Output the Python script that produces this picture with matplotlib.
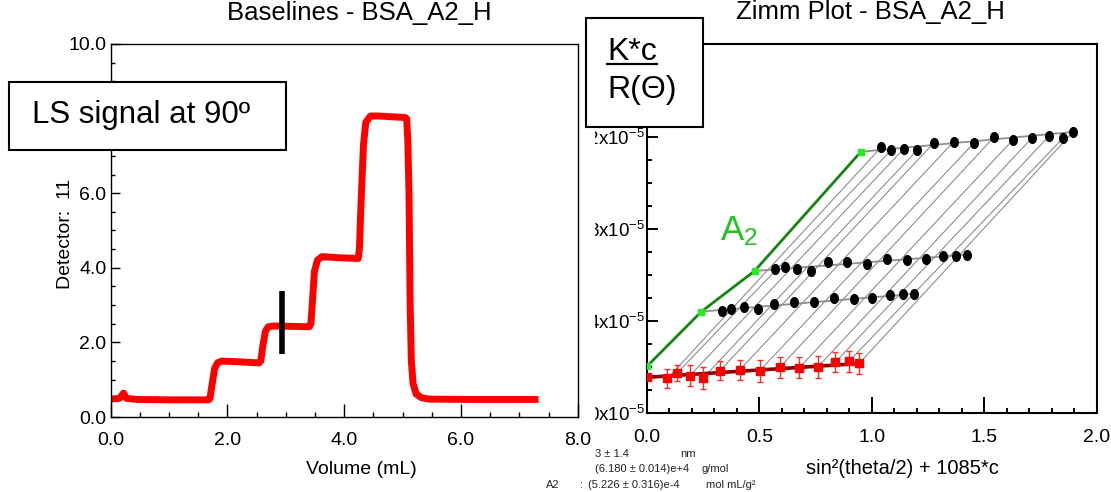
import numpy as np
import matplotlib
matplotlib.use("Agg")
import matplotlib.pyplot as plt
from matplotlib.patches import Rectangle
from matplotlib.lines import Line2D
from matplotlib.markers import MarkerStyle
from matplotlib.transforms import Affine2D, Bbox, TransformedBbox
from matplotlib.ticker import MultipleLocator

plt.rcParams['font.family'] = ['Liberation Sans', 'DejaVu Sans']
plt.rcParams['mathtext.fontset'] = 'custom'
plt.rcParams['mathtext.rm'] = 'Liberation Sans'
plt.rcParams['mathtext.it'] = 'Liberation Sans:italic'
plt.rcParams['mathtext.bf'] = 'Liberation Sans:bold'
plt.rcParams['mathtext.default'] = 'regular'

# --- left panel: LS detector trace (volume mL, signal) ---
volume = [0.00, 0.15, 0.22, 0.27, 0.45, 1.00, 1.68,
          1.70, 1.74, 1.78, 1.83, 1.90, 2.20, 2.54,
          2.57, 2.61, 2.65, 2.70, 2.80, 3.10, 3.40,
          3.43, 3.46, 3.49, 3.54, 3.62, 3.90, 4.24,
          4.26, 4.29, 4.33, 4.37, 4.45, 4.60, 4.80, 5.04,
          5.07, 5.09, 5.11, 5.13, 5.15, 5.18, 5.23, 5.32, 5.45, 6.20, 7.27]
signal = [0.48, 0.50, 0.64, 0.50, 0.47, 0.46, 0.46,
          0.50, 0.90, 1.30, 1.45, 1.50, 1.48, 1.45,
          1.50, 1.95, 2.30, 2.42, 2.44, 2.43, 2.42,
          2.50, 3.20, 3.90, 4.20, 4.30, 4.27, 4.25,
          4.50, 5.80, 7.30, 7.90, 8.07, 8.07, 8.05, 8.03,
          8.00, 7.40, 6.00, 3.00, 1.50, 0.90, 0.62, 0.52, 0.48, 0.47, 0.47]
marker_vol = 2.93
marker_lo, marker_hi = 1.68, 3.38

# --- right panel: Zimm plot (y in units of 1e-5) ---
sin2 = np.array([0.091, 0.134, 0.191, 0.250, 0.325, 0.4125, 0.502,
                 0.591, 0.678, 0.761, 0.8375, 0.898, 0.944])
conc = np.array([2.23e-4, 4.41e-4, 8.77e-4])   # g/mL
kc = 1085 * conc

row1 = [1.6444, 1.6452, 1.6460, 1.6452, 1.6472, 1.6482, 1.6483,
        1.6498, 1.6495, 1.6501, 1.6512, 1.6519, 1.6518]
row2 = [1.6627, 1.6636, 1.6627, 1.6617, 1.6658, 1.6656, 1.6649,
        1.6669, 1.6664, 1.6668, 1.6684, 1.6681, 1.6688]
row3 = [1.7154, 1.7140, 1.7147, 1.7141, 1.7173, 1.7177, 1.7171,
        1.7196, 1.7187, 1.7194, 1.7202, 1.7192, 1.7220]
zero_c = [1.6151, 1.6175, 1.6163, 1.6153, 1.6185, 1.6188, 1.6185,
          1.6199, 1.6198, 1.6202, 1.6221, 1.6225, 1.6216]
zero_c_err = [0.0042, 0.0036, 0.0046, 0.0046, 0.0042, 0.0043, 0.0048,
              0.0046, 0.0046, 0.0048, 0.0043, 0.0046, 0.0046]
zero_c0 = 1.6156
zero_angle = [1.6204, 1.6441, 1.6617, 1.7134]   # at 1085*c = 0, kc[0..2]

yticks_zimm = [1.60, 1.64, 1.68, 1.72]

W, H = 1111, 492
fig = plt.figure(figsize=(W / 100, H / 100), dpi=100)


def fx(x):
    return x / W


def fy(y):
    return 1 - y / H


# ---------------- left panel ----------------
ax1 = fig.add_axes([fx(110.7), fy(417), (577.7 - 110.7) / W, (417 - 44) / H])
ax1.plot(volume, signal, color='#ff0000', lw=5, solid_joinstyle='round')
ax1.plot([marker_vol, marker_vol], [marker_lo, marker_hi], color='black', lw=4,
         solid_capstyle='butt')
ax1.set_xlim(0, 8)
ax1.set_ylim(0, 10)
ax1.set_xticks(np.arange(0, 9, 2), labels=[f"{v:.1f}" for v in np.arange(0, 9, 2)])
# the 8.0 label sits under the "LS signal" box
ax1.set_yticks(np.arange(0, 11, 2),
               labels=[f"{v:.1f}" if v != 8 else '' for v in np.arange(0, 11, 2)])
ax1.xaxis.set_minor_locator(MultipleLocator(0.5))
ax1.yaxis.set_minor_locator(MultipleLocator(0.5))
ax1.tick_params(axis='x', which='major', direction='in', length=9.4, width=1,
                labelsize=14, pad=11)
ax1.tick_params(axis='x', which='minor', direction='in', length=3.6, width=1)
ax1.tick_params(axis='y', which='major', direction='in', length=6.5, width=1,
                labelsize=14, pad=3)
ax1.tick_params(axis='y', which='minor', direction='in', length=3, width=1)
for s in ax1.spines.values():
    s.set_linewidth(1.0)
ax1.set_xlabel('Volume (mL)', fontsize=14, va='center')
ax1.xaxis.set_label_coords((361.6 - 110.7) / 467, (417 - 470) / 373)
ax1.set_ylabel('Detector:  11', fontsize=14, va='center')
ax1.yaxis.set_label_coords((66 - 110.7) / 467, (417 - 234) / 373)
ax1.set_title('Baselines - BSA_A2_H', fontsize=18.5, x=(359 - 110.7) / 467,
              y=(417 - 21) / 373, va='center')

# ---------------- right panel ----------------
ax2 = fig.add_axes([fx(647), fy(413.3), (1096.5 - 647) / W, (413.3 - 44.3) / H])
ell = MarkerStyle('o', transform=Affine2D().scale(0.78, 1.0))
rows = [row1, row2, row3]

for i in range(len(sin2)):
    ax2.plot([sin2[i], sin2[i] + kc[2]], [zero_c[i], row3[i]],
             color='#8e8e8e', lw=0.8, zorder=1)
for j, row in enumerate(rows):
    ax2.plot([kc[j], sin2[-1] + kc[j]], [zero_angle[j + 1], row[-1]],
             color='#8e8e8e', lw=1.3, zorder=2)
    ax2.plot(sin2 + kc[j], row, ls='none', marker=ell, ms=7, color='black', zorder=4)

ax2.plot(np.r_[0, kc], zero_angle, color='#12870f', lw=2, zorder=3)
ax2.plot(np.r_[0, kc], zero_angle, ls='none', marker='s', ms=5, color='#22ee22', zorder=5)

ax2.plot([0, sin2[-1]], [zero_c0, zero_c[-1]], color='#8b0000', lw=2.6, zorder=3)
ax2.errorbar(sin2, zero_c, yerr=zero_c_err, fmt='s', ms=5.5, color='#ff0000',
             ecolor='#ff2a2a', elinewidth=1, capsize=2.5, capthick=1, zorder=5)
ax2.plot([0], [zero_c0], ls='none', marker='s', ms=5.5, color='#ff0000', zorder=5)

ax2.text(0.325, 1.675, 'A$_2$', color='#1fc41f', fontsize=25, ha='left', va='baseline')

ax2.set_xlim(0, 2)
ax2.set_ylim(1.60, 1.76)
ax2.set_xticks([0, 0.5, 1.0, 1.5, 2.0], labels=['0.0', '0.5', '1.0', '1.5', '2.0'])
ax2.set_yticks(yticks_zimm, labels=[f"{v:.2f}x10$^{{-5}}$" for v in yticks_zimm])
ax2.xaxis.set_minor_locator(MultipleLocator(0.1))
ax2.yaxis.set_minor_locator(MultipleLocator(0.01))
ax2.tick_params(axis='x', which='major', direction='in', length=11.5, width=1.4,
                labelsize=14, pad=11)
ax2.tick_params(axis='x', which='minor', direction='in', length=3.6, width=1.4)
ax2.tick_params(axis='y', which='major', direction='in', length=8, width=1.4,
                labelsize=13.5, pad=1.5)
ax2.tick_params(axis='y', which='minor', direction='in', length=3.4, width=1.4)
for s in ax2.spines.values():
    s.set_linewidth(1.5)
ax2.set_xlabel('sin²(theta/2) + 1085*c', fontsize=14.5, va='center')
ax2.xaxis.set_label_coords((902 - 647) / 449.5, (413.3 - 468) / 369)
ax2.set_title('Zimm Plot - BSA_A2_H', fontsize=18.5, x=(870 - 647) / 449.5,
              y=(413.3 - 20) / 369, va='center')

# the right picture is cut at its left edge
clip = TransformedBbox(Bbox.from_extents(fx(595), 0, 1, 1), fig.transFigure)
for lab in ax2.get_yticklabels():
    lab.set_clip_box(clip)
    lab.set_clip_on(True)

# results block under the plots
fig.text(fx(595), fy(454), '3 ± 1.4', fontsize=8, va='center', color='#222222')
fig.text(fx(680), fy(454), 'nm', fontsize=8, va='center', color='#222222')
fig.text(fx(595), fy(469), '(6.180 ± 0.014)e+4', fontsize=8, va='center', color='#222222')
fig.text(fx(701), fy(469), 'g/mol', fontsize=8, va='center', color='#222222')
fig.text(fx(546), fy(485), 'A2', fontsize=8, va='center', color='#222222')
fig.text(fx(580), fy(485), ':', fontsize=8, va='center', color='#222222')
fig.text(fx(588), fy(485), '(5.226 ± 0.316)e-4', fontsize=8, va='center', color='#222222')
fig.text(fx(706), fy(485), 'mol mL/g²', fontsize=8, va='center', color='#222222')

# annotation boxes
fig.add_artist(Rectangle((fx(9.3), fy(150)), (286 - 9.3) / W, (150 - 82) / H,
                         transform=fig.transFigure, facecolor='white',
                         edgecolor='black', lw=1.5, zorder=5))
fig.text(fx(31.7), fy(123.3), 'LS signal at 90º', fontsize=22.5, va='baseline',
         ha='left', zorder=6)

fig.add_artist(Rectangle((fx(586), fy(126.7)), (702.7 - 586) / W, (126.7 - 18.3) / H,
                         transform=fig.transFigure, facecolor='white',
                         edgecolor='black', lw=1.5, zorder=5))
fig.text(fx(607), fy(60), 'K*c', fontsize=23, va='baseline', ha='left', zorder=6)
fig.add_artist(Line2D([fx(606.7), fx(657.3)], [fy(63.5), fy(63.5)],
                      transform=fig.transFigure, color='black', lw=1.6, zorder=6))
fig.text(fx(607), fy(98.3), 'R(Θ)', fontsize=23, va='baseline', ha='left', zorder=6)

fig.savefig('out.png', dpi=100)
